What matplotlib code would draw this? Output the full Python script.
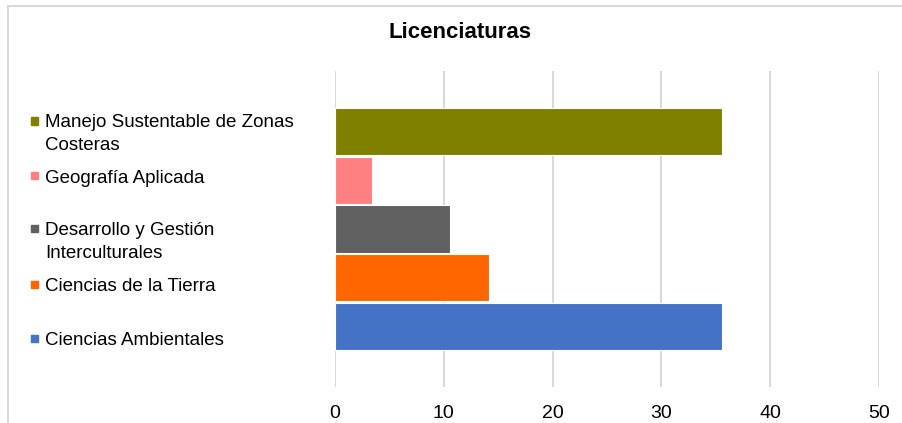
import matplotlib.pyplot as plt
from matplotlib.patches import Rectangle

plt.rcParams['font.family'] = ['Liberation Sans', 'DejaVu Sans']

# data (bottom to top)
carreras = ['Ciencias Ambientales', 'Ciencias de la Tierra',
            'Desarrollo y Gestión\nInterculturales', 'Geografía Aplicada',
            'Manejo Sustentable de Zonas\nCosteras']
valores = [35.6, 14.2, 10.6, 3.4, 35.6]
colores = ['#4472C4', '#FF6600', '#606060', '#FF8080', '#808000']
ticks = [0, 10, 20, 30, 40, 50]

W, H = 902, 423
fig = plt.figure(figsize=(W / 100, H / 100), dpi=100)

def fx(px):
    return px / W

def fy(py):
    return 1 - py / H

# outer chart border
fig.patches.append(Rectangle((fx(8), fy(H + 5)), 1.0, fy(6) - fy(H + 5),
                             transform=fig.transFigure, fill=False,
                             edgecolor='#d9d9d9', linewidth=1.5))

ax = fig.add_axes([fx(335), fy(387), fx(879) - fx(335), fy(71) - fy(387)])
ypos = list(range(len(carreras)))
ax.barh(ypos, valores, height=0.97, color=colores, edgecolor='white',
        linewidth=0.8, zorder=3)
ax.set_xlim(0, 50)
ax.set_ylim(-1.25, 5.25)
ax.set_xticks(ticks)
ax.set_yticks([])
ax.tick_params(axis='x', length=0, pad=13, labelsize=14)
ax.grid(axis='x', color='#d9d9d9', linewidth=1.5, zorder=0)
for s in ax.spines.values():
    s.set_visible(False)

fig.text(fx(460), fy(33), 'Licenciaturas', ha='center', va='center',
         fontsize=16, fontweight='bold')

# legend-like labels on the left
label_y = [338, 284, 229, 176, 121]
for lab, col, py in zip(carreras, colores, label_y):
    fig.patches.append(Rectangle((fx(31.5), fy(py + 3.5)), fx(7), fy(0) - fy(7),
                                 transform=fig.transFigure, color=col))
    extra = lab.count('\n') * 22
    fig.text(fx(45), fy(py + 6.5 + extra), lab, ha='left', va='baseline',
             fontsize=13.5, linespacing=1.4)

fig.savefig('out.png', dpi=100)
